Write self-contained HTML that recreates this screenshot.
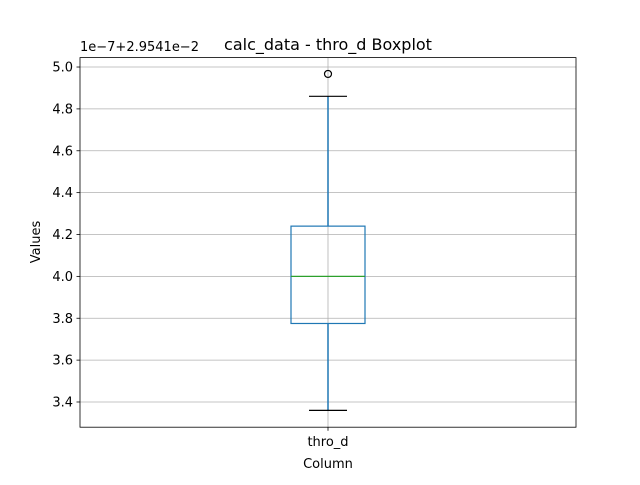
<!DOCTYPE html>
<html><head><meta charset="utf-8"><style>body{margin:0;background:#fff}svg{font-family:"DejaVu Sans","Liberation Sans",sans-serif}</style></head>
<body>
<svg id="chart" width="640" height="480" xmlns="http://www.w3.org/2000/svg">
<rect width="640" height="480" fill="#fff"/>
<g id="grid"></g>
<g id="marks"></g>
<rect x="80" y="57.6" width="496" height="369.6" fill="none" stroke="#000" stroke-width="0.8"/>
<g id="ticks" font-size="13" fill="#000"></g>
<text x="328" y="50" text-anchor="middle" font-size="16">calc_data - thro_d Boxplot</text>
<text x="80" y="51" font-size="13">1e−7+2.9541e−2</text>
<text x="328" y="468" text-anchor="middle" font-size="13">Column</text>
<text transform="translate(40,242) rotate(-90)" text-anchor="middle" font-size="13">Values</text>
</svg>
<script>
const categories = ["thro_d"];
const q1 = [3.775];
const median = [4.0];
const q3 = [4.24];
const whiskerLow = [3.36];
const whiskerHigh = [4.86];
const outliers = [[4.967]];
const yTicks = [3.4, 3.6, 3.8, 4.0, 4.2, 4.4, 4.6, 4.8, 5.0];
const yMin = 3.2796, yMax = 5.045;
const plotTop = 57.6, plotBottom = 427.2, plotLeft = 80, plotRight = 576;
const NS = "http://www.w3.org/2000/svg";
function y(v){return plotBottom - (v - yMin)/(yMax - yMin)*(plotBottom - plotTop);}
function xc(i){return plotLeft + (plotRight-plotLeft)*(i+1)/(categories.length+1);}
function mk(tag, attrs, parent){const e=document.createElementNS(NS,tag);for(const k in attrs)e.setAttribute(k,attrs[k]);parent.appendChild(e);return e;}
const grid=document.getElementById('grid'), marks=document.getElementById('marks'), ticks=document.getElementById('ticks');
yTicks.forEach(t=>{
  const l=mk('line',{x1:plotLeft,x2:plotRight,y1:y(t),y2:y(t),stroke:'#b0b0b0','stroke-width':0.8},grid);
  
  
  const tk=mk('line',{x1:plotLeft-3.5,x2:plotLeft,y1:y(t),y2:y(t),stroke:'#000','stroke-width':0.8},ticks);
  
  
  const tx=mk('text',{x:plotLeft-7,y:y(t)+4.5,'text-anchor':'end'},ticks);
  tx.textContent=t.toFixed(1);
  
  
});
categories.forEach((c,i)=>{
  const cx=xc(i), hw=37, cw=19;
  const g=mk('line',{x1:cx,x2:cx,y1:plotTop,y2:plotBottom,stroke:'#b0b0b0','stroke-width':0.8},grid);
  
  
  const w1=mk('line',{x1:cx,x2:cx,y1:y(q1[i]),y2:y(whiskerLow[i]),stroke:'#1f77b4','stroke-width':1.5},marks);
  
  
  const w2=mk('line',{x1:cx,x2:cx,y1:y(q3[i]),y2:y(whiskerHigh[i]),stroke:'#1f77b4','stroke-width':1.5},marks);
  
  
  const b=mk('rect',{x:cx-hw,y:y(q3[i]),width:2*hw,height:y(q1[i])-y(q3[i]),fill:'none',stroke:'#1f77b4','stroke-width':1.2},marks);
  
  
  const m=mk('line',{x1:cx-hw,x2:cx+hw,y1:y(median[i]),y2:y(median[i]),stroke:'#2ca02c','stroke-width':1.2},marks);
  
  
  [whiskerLow[i],whiskerHigh[i]].forEach(v=>{
    const cp=mk('line',{x1:cx-cw,x2:cx+cw,y1:y(v),y2:y(v),stroke:'#000','stroke-width':1.2},marks);
    
    
  });
  outliers[i].forEach(v=>{
    const o=mk('circle',{cx:cx,cy:y(v),r:3.5,fill:'none',stroke:'#000','stroke-width':1.2},marks);
    
    
  });
  const tk=mk('line',{x1:cx,x2:cx,y1:plotBottom,y2:plotBottom+3.5,stroke:'#000','stroke-width':0.8},ticks);
  
  
  const tx=mk('text',{x:cx,y:plotBottom+19,'text-anchor':'middle'},ticks);
  tx.textContent=c;
  
  
});
</script>
</body></html>
